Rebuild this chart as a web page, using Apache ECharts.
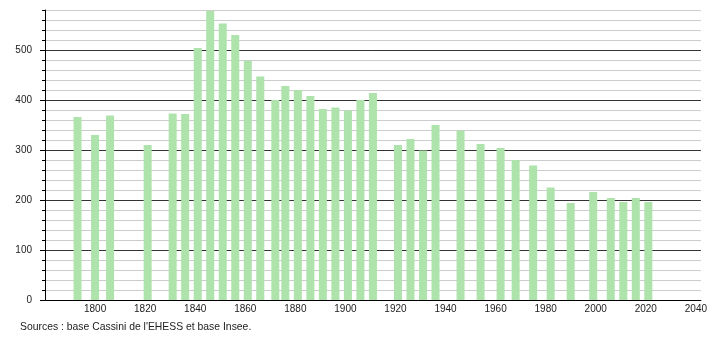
<!DOCTYPE html>
<html>
<head>
<meta charset="utf-8">
<script src="https://cdn.jsdelivr.net/npm/echarts@6/dist/echarts.min.js"></script>
<style>html,body{margin:0;padding:0;background:#fff}#c{width:710px;height:340px}</style>
</head>
<body>
<div id="c"></div>
<script>
var years = [1793,1800,1806,1821,1831,1836,1841,1846,1851,1856,1861,1866,1872,1876,1881,1886,1891,1896,1901,1906,1911,1921,1926,1931,1936,1946,1954,1962,1968,1975,1982,1990,1999,2006,2011,2016,2021];
var population = [366,330,369,310,373,372,504,578,553,530,479,447,400,428,420,408,382,385,379,400,414,310,322,299,350,339,312,304,280,269,225,194,216,204,196,204,196];
var xTicks = [1800,1820,1840,1860,1880,1900,1920,1940,1960,1980,2000,2020,2040];
var yLabels = [0,100,200,300,400,500];
var sourceText = "Sources : base Cassini de l'EHESS et base Insee.";

var data = years.map(function(y,i){return [y, population[i]];});
var font = "'Liberation Sans', Arial, sans-serif";
var chart = echarts.init(document.getElementById('c'));
chart.setOption({
  animation:false,
  grid:{left:45,right:9,top:10,bottom:40,containLabel:false},
  xAxis:{type:'value',min:1780,max:2042,interval:20,
    axisLine:{lineStyle:{color:'#000',width:1}},
    axisTick:{show:false},
    splitLine:{show:false},
    axisLabel:{margin:4,fontSize:10,color:'#222',fontFamily:font,
      formatter:function(v){return xTicks.indexOf(v)>=0?String(v):'';}}
  },
  yAxis:[{type:'value',min:0,max:580,interval:20,
    axisLine:{show:true,lineStyle:{color:'#000'}},
    axisTick:{show:true,length:3,lineStyle:{color:'#000'}},
    splitLine:{show:true,lineStyle:{color:['#333','#ccc','#ccc','#ccc','#ccc'],width:1}},
    axisLabel:{margin:13,fontSize:10,color:'#222',fontFamily:font,
      formatter:function(v){return yLabels.indexOf(v)>=0?String(v):'';}}
  },{type:'value',min:0,max:580,interval:20,position:'left',
    axisLine:{show:false},
    axisTick:{show:true,length:5,customValues:yLabels,lineStyle:{color:'#000'}},
    splitLine:{show:false},axisLabel:{show:false}
  }],
  series:[{type:'bar',data:data,barWidth:8,itemStyle:{color:'#aee3ab'},z:3}],
  graphic:[{type:'text',left:20,top:322,style:{text:sourceText,fontSize:10.4,fill:'#222',fontFamily:font}}]
});
</script>
</body>
</html>
